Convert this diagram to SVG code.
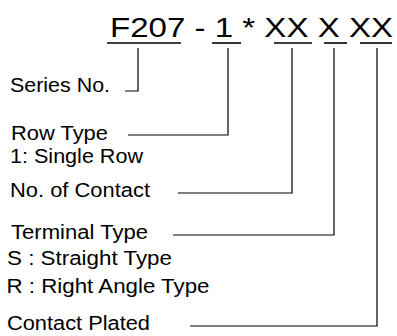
<svg xmlns="http://www.w3.org/2000/svg" width="397" height="336" viewBox="0 0 397 336">
<style>
text{font-family:"Liberation Sans",Arial,sans-serif;fill:#000}
.t{font-size:28px}
.l{font-size:20px}
.u{stroke:#000;stroke-width:1.6;fill:none}
.c{stroke:#000;stroke-width:1.2;fill:none}
</style>
<rect width="397" height="336" fill="#fff"/>
<g id="title">
<text class="t" x="110" y="36.5" textLength="283" lengthAdjust="spacingAndGlyphs">F207 - 1 * XX X XX</text>
<line class="u" x1="107" y1="43" x2="181" y2="43"/>
<line class="u" x1="212" y1="43" x2="241" y2="43"/>
<line class="u" x1="274" y1="43" x2="312" y2="43"/>
<line class="u" x1="324" y1="43" x2="347" y2="43"/>
<line class="u" x1="360" y1="43" x2="392" y2="43"/>
</g>
<g id="series"><text class="l" x="10" y="92" textLength="100" lengthAdjust="spacingAndGlyphs">Series No.</text></g>
<g id="row"><text class="l" x="11" y="140" textLength="97" lengthAdjust="spacingAndGlyphs">Row Type</text><text class="l" x="10" y="163" textLength="133" lengthAdjust="spacingAndGlyphs">1: Single Row</text></g>
<g id="contact"><text class="l" x="10" y="197" textLength="140" lengthAdjust="spacingAndGlyphs">No. of Contact</text></g>
<g id="terminal"><text class="l" x="11" y="239" textLength="137" lengthAdjust="spacingAndGlyphs">Terminal Type</text><text class="l" x="7" y="265" textLength="165" lengthAdjust="spacingAndGlyphs">S : Straight Type</text><text class="l" x="6.5" y="293" textLength="203" lengthAdjust="spacingAndGlyphs">R : Right Angle Type</text></g>
<g id="plated"><text class="l" x="7" y="330" textLength="143" lengthAdjust="spacingAndGlyphs">Contact Plated</text></g>
<g id="connectors">
<polyline class="c" points="138,48 138,91 125,91"/>
<polyline class="c" points="228,48 228,135 128,135"/>
<polyline class="c" points="292,48 292,193 178,193"/>
<polyline class="c" points="334,48 334,235 173,235"/>
<polyline class="c" points="377,48 377,326 190,326"/>
</g>
</svg>
